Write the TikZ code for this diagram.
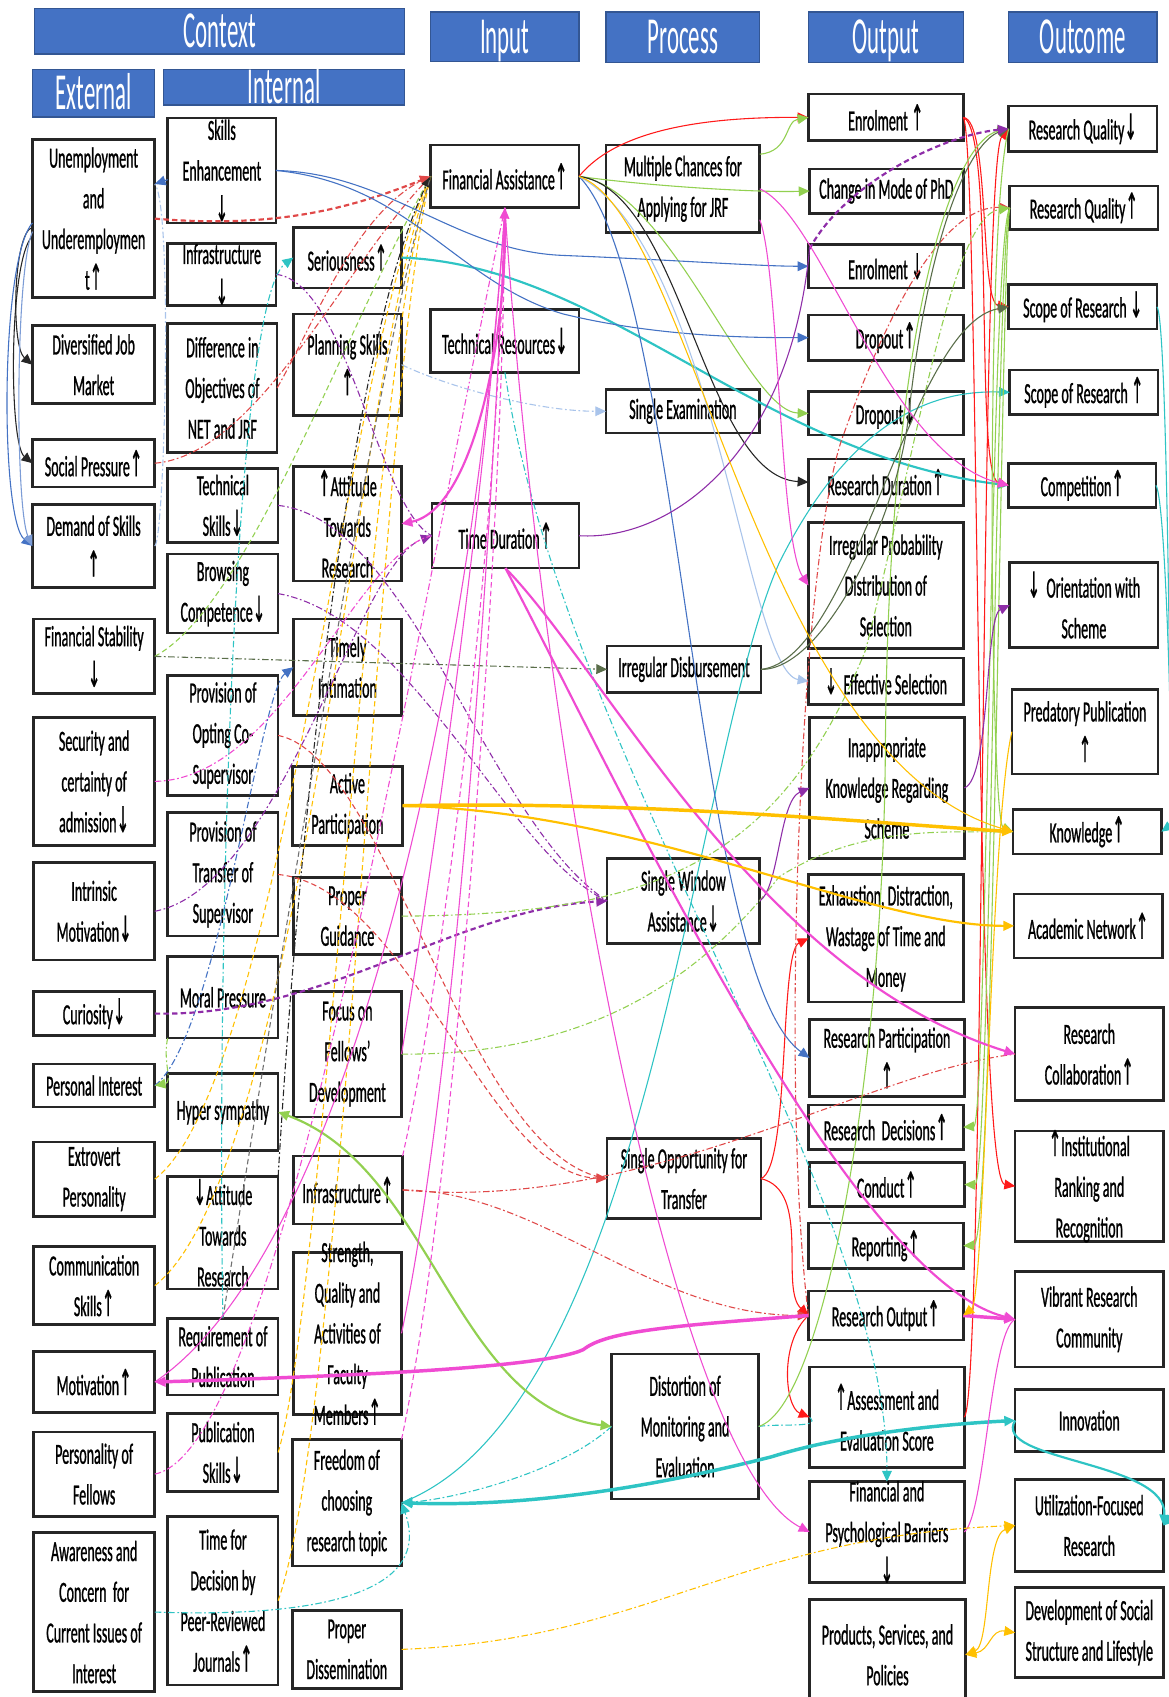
\documentclass[tikz,border=0pt]{standalone}
\usepackage{fontspec}
\setmainfont{Carlito}[FakeStretch=0.48,FakeBold=0.8]
\newfontfamily\hdrfont{Carlito}[FakeStretch=0.44]
\newfontfamily\arrfont{DejaVu Sans}[FakeStretch=0.42,FakeBold=0.4]
\usetikzlibrary{arrows.meta}
\definecolor{hblue}{HTML}{4472C4}
\definecolor{cred}{HTML}{FF1A1A}
\definecolor{cdred}{HTML}{E04848}
\definecolor{cgreen}{HTML}{92D050}
\definecolor{cblue}{HTML}{4472C4}
\definecolor{clblue}{HTML}{A9C4EB}
\definecolor{cblack}{HTML}{262626}
\definecolor{cgray}{HTML}{707070}
\definecolor{cmag}{HTML}{F04BD2}
\definecolor{cpurp}{HTML}{8E2DA8}
\definecolor{ccyan}{HTML}{2EC4C4}
\definecolor{cyel}{HTML}{FFC000}
\definecolor{cdgreen}{HTML}{5A6E4A}
\newcommand\myup{{\arrfont\fontsize{16.5}{18}\selectfont ↑}}
\newcommand\mydn{{\arrfont\fontsize{16.5}{18}\selectfont ↓}}
\newcommand\bx[6]{%
  \node[box,minimum width={(#4-#2)*0.5pt},minimum height={(#5-#3)*0.5pt}] (#1) at ({(#2+#4)/2},{(#3+#5)/2}) {};%
  \node[txt] (#1-t) at (#1.center) {#6};}
\newcommand\hd[6]{%
  \node[hdr,minimum width={(#4-#2)*0.5pt},minimum height={(#5-#3)*0.5pt}] (#1) at ({(#2+#4)/2},{(#3+#5)/2}) {#6};}
\begin{document}
\begin{tikzpicture}[x=0.5pt,y=-0.5pt,
  box/.style={draw=black!85,line width=1.2pt,fill=white,inner sep=0pt,outer sep=0pt},
  txt/.style={font=\fontsize{13.5}{18.8}\selectfont,align=center,inner sep=0pt},
  hdr/.style={fill=hblue,draw=hblue!75!black,line width=0.6pt,text=white,inner sep=0pt,outer sep=0pt,
    font=\hdrfont\fontsize{24}{26}\selectfont,text height=15pt,text depth=0pt},
  ar/.style={-{Triangle[length=5pt,width=4.5pt]}},
  arb/.style={{Triangle[length=5pt,width=4.5pt]}-{Triangle[length=5pt,width=4.5pt]}},
  l1/.style={line width=0.5pt},
  l2/.style={line width=1pt},
  l3/.style={line width=1.6pt},
  dd/.style={dash pattern=on 3pt off 1.2pt on 0.8pt off 1.2pt},
  ds/.style={dash pattern=on 2.5pt off 1.5pt}]
\useasboundingbox (0,0) rectangle (1080,1568);
\fill[white] (0,0) rectangle (1080,1568);
% headers
\hd{hcontext}{32}{8}{374}{50}{Context}
\hd{hext}{30}{64}{143}{108}{External}
\hd{hint}{151}{64}{374}{97}{Internal}
\hd{hinput}{398}{11}{535}{57}{Input}
\hd{hproc}{560}{11}{702}{58}{Process}
\hd{hout}{747}{11}{890}{58}{Output}
\hd{houtc}{932}{11}{1069}{58}{Outcome}
% external
\bx{unemp}{30}{129}{143}{275}{Unemployment\\and\\Underemploymen\\t\myup}
\bx{divjob}{30}{301}{143}{373}{Diversified Job\\Market}
\bx{socpr}{30}{406}{143}{450}{Social Pressure\myup}
\bx{demsk}{30}{466}{143}{543}{Demand of Skills\\\myup}
\bx{finstab}{31}{572}{143}{641}{Financial Stability\\\mydn}
\bx{secur}{31}{663}{143}{781}{Security and\\certainty of\\admission\mydn}
\bx{intrin}{31}{797}{143}{887}{Intrinsic\\Motivation\mydn}
\bx{curio}{31}{916}{143}{957}{Curiosity\mydn}
\bx{persint}{31}{983}{143}{1023}{Personal Interest}
\bx{extro}{31}{1055}{143}{1124}{Extrovert\\Personality}
\bx{commsk}{31}{1152}{143}{1224}{Communication\\Skills\myup}
\bx{motiv}{31}{1249}{143}{1305}{Motivation\myup}
\bx{persfel}{31}{1323}{143}{1401}{Personality of\\Fellows}
\bx{aware}{31}{1416}{143}{1563}{Awareness and\\Concern\ \ for\\Current Issues of\\Interest}
% internal 1
\bx{skillenh}{155}{109}{255}{206}{Skills\\Enhancement\\\mydn}
\bx{infradn}{155}{225}{255}{282}{Infrastructure\\\mydn}
\bx{diffobj}{155}{299}{256}{418}{Difference in\\Objectives of\\NET and JRF}
\bx{techsk}{155}{433}{257}{501}{Technical\\Skills\mydn}
\bx{browse}{155}{512}{257}{585}{Browsing\\Competence\mydn}
\bx{optco}{155}{624}{257}{735}{Provision of\\Opting Co-\\Supervisor}
\bx{transfer}{155}{751}{257}{865}{Provision of\\Transfer of\\Supervisor}
\bx{moral}{155}{884}{257}{959}{Moral Pressure}
\bx{hyper}{155}{992}{257}{1063}{Hyper sympathy}
\bx{attdn}{155}{1087}{257}{1191}{\mydn Attitude\\Towards\\Research}
\bx{reqpub}{155}{1218}{257}{1289}{Requirement of\\Publication}
\bx{pubsk}{155}{1306}{257}{1378}{Publication\\Skills\mydn}
\bx{timedec}{155}{1401}{257}{1557}{Time for\\Decision by\\Peer-Reviewed\\Journals\myup}
% internal 2
\bx{serious}{271}{210}{371}{266}{Seriousness\myup}
\bx{plan}{271}{290}{371}{384}{Planning Skills\\\myup}
\bx{attup}{271}{431}{371}{537}{\myup Attitude\\Towards\\Research}
\bx{timely}{271}{572}{371}{661}{Timely\\Intimation}
\bx{active}{270}{708}{372}{781}{Active\\Participation}
\bx{guidance}{271}{811}{371}{882}{Proper\\Guidance}
\bx{focus}{271}{916}{371}{1032}{Focus on\\Fellows’\\Development}
\bx{infraup}{271}{1068}{372}{1131}{Infrastructure\myup}
\bx{faculty}{271}{1157}{371}{1307}{Strength,\\Quality and\\Activities of\\Faculty\\Members\myup}
\bx{freedom}{270}{1330}{371}{1447}{Freedom of\\choosing\\research topic}
\bx{dissem}{270}{1488}{371}{1560}{Proper\\Dissemination}
% input
\bx{fa}{398}{134}{535}{192}{Financial Assistance\myup}
\bx{techres}{398}{286}{535}{344}{Technical Resources\mydn}
\bx{timedur}{399}{465}{535}{525}{Time Duration\myup}
% process
\bx{multi}{560}{134}{702}{215}{Multiple Chances for\\Applying for JRF}
\bx{singleexam}{560}{360}{702}{400}{Single Examination}
\bx{irregdisb}{561}{597}{703}{640}{Irregular Disbursement}
\bx{singlewin}{561}{793}{702}{872}{Single Window\\Assistance\mydn}
\bx{singleopp}{561}{1052}{703}{1126}{Single Opportunity for\\Transfer}
\bx{distort}{565}{1251}{701}{1385}{Distortion of\\Monitoring and\\Evaluation}
% output
\bx{enrup}{747}{87}{890}{130}{Enrolment \myup}
\bx{mode}{748}{156}{890}{197}{Change in Mode of PhD}
\bx{enrdn}{747}{226}{890}{266}{Enrolment \mydn}
\bx{dropup}{747}{291}{890}{333}{Dropout\myup}
\bx{dropdn}{747}{362}{890}{402}{Dropout\mydn}
\bx{resdur}{747}{424}{890}{467}{Research Duration\myup}
\bx{irrprob}{747}{483}{890}{599}{Irregular Probability\\Distribution of\\Selection}
\bx{effsel}{747}{608}{890}{651}{\mydn\ \ Effective Selection}
\bx{inapp}{748}{663}{891}{793}{Inappropriate\\Knowledge Regarding\\Scheme}
\bx{exhaust}{747}{808}{890}{926}{Exhaustion, Distraction,\\Wastage of Time and\\Money}
\bx{respart}{748}{942}{891}{1013}{Research Participation\\\myup}
\bx{resdec}{747}{1021}{890}{1062}{Research\ \ Decisions\myup}
\bx{conduct}{748}{1074}{891}{1115}{Conduct\myup}
\bx{report}{747}{1130}{890}{1172}{Reporting\myup}
\bx{resout}{747}{1193}{890}{1238}{Research Output\myup}
\bx{assess}{748}{1263}{891}{1356}{\myup Assessment and\\Evaluation Score}
\bx{barriers}{748}{1369}{891}{1462}{Financial and\\Psychological Barriers\\\mydn}
\bx{products}{748}{1478}{892}{1580}{Products, Services, and\\Policies}
% outcome
\bx{rqdn}{932}{98}{1069}{140}{Research Quality\mydn}
\bx{rqup}{933}{172}{1070}{212}{Research Quality\myup}
\bx{scopedn}{932}{263}{1069}{304}{Scope of Research \mydn}
\bx{scopeup}{933}{342}{1070}{383}{Scope of Research \myup}
\bx{compet}{932}{428}{1068}{469}{Competition\myup}
\bx{orient}{933}{520}{1070}{598}{\mydn\ \ Orientation with\\Scheme}
\bx{predatory}{935}{637}{1070}{715}{Predatory Publication\\\myup}
\bx{knowl}{936}{748}{1073}{789}{Knowledge\myup}
\bx{acadnet}{937}{826}{1074}{885}{Academic Network\myup}
\bx{collab}{938}{931}{1075}{1017}{Research\\Collaboration\myup}
\bx{ranking}{938}{1045}{1075}{1147}{\myup Institutional\\Ranking and\\Recognition}
\bx{vibrant}{938}{1175}{1075}{1263}{Vibrant Research\\Community}
\bx{innov}{938}{1284}{1075}{1341}{Innovation}
\bx{utiliz}{938}{1367}{1075}{1452}{Utilization-Focused\\Research}
\bx{devsoc}{938}{1467}{1075}{1550}{Development of Social\\Structure and Lifestyle}
% ---------- connectors ----------
% left side
\draw[l1,cblack,ar] ([yshift=-4pt]unemp.west) .. controls (12,215) and (10,320) .. (divjob.west);
\draw[l1,cblack,ar] ([yshift=-8pt]unemp.west) .. controls (8,240) and (8,410) .. (socpr.west);
\draw[l1,cblue,ar] ([yshift=-2pt]unemp.west) .. controls (0,240) and (0,480) .. (demsk.west);
\draw[l1,cblue!70,ar] ([yshift=-6pt]unemp.west) .. controls (14,250) and (14,470) .. (demsk.west);
\draw[l1,clblue,dd] (demsk.east) .. controls (152,500) and (160,190) .. ([yshift=16pt]unemp.east);
\draw[l1,cblue,ar] ([yshift=18pt,xshift=6pt]unemp.east) -- ([yshift=16pt]unemp.east);
% into financial assistance
\draw[l2,cdred,ds,ar] (unemp.east) .. controls (260,212) and (330,190) .. (fa.west);
\draw[l1,cdred,dd] (socpr.east) .. controls (240,420) and (320,240) .. (fa.west);
\draw[l1,cdred,dd] (diffobj.east) .. controls (290,300) and (330,190) .. (fa.west);
\draw[l1,cyel,ds] (extro.east) .. controls (260,1000) and (320,320) .. (fa.west);
\draw[l1,cyel,ds] (commsk.east) .. controls (280,1080) and (330,330) .. (fa.west);
\draw[l1,cyel,ds] (pubsk.east) .. controls (300,1200) and (340,340) .. (fa.west);
\draw[l1,cyel,ds] (timedec.east) .. controls (320,1300) and (350,350) .. (fa.west);
\draw[l1,cgreen,ds] (finstab.east) .. controls (230,560) and (320,300) .. (fa.west);
\draw[l1,cblack,dd,ar] (attdn.north east) .. controls (280,700) and (330,300) .. (fa.west);
\draw[l1,cgray,ds] (reqpub.north) .. controls (240,1000) and (350,320) .. (fa.west);
\draw[l1,cdgreen,dd,ar] (finstab.east) -- (irregdisb.west);
\draw[l1,cblue,dd,ar] (persint.east) .. controls (200,960) and (240,640) .. (timely.west);
\draw[l1,cgreen,dd,ar] (moral.south west) .. controls (150,980) and (160,1000) .. (persint.east);
% purple / magenta dashed
\draw[l2,cpurp,ds,ar] (curio.east) .. controls (300,940) and (420,840) .. (singlewin.west);
\draw[l1,cpurp,dd] (techsk.east) .. controls (380,480) and (450,760) .. (singlewin.west);
\draw[l1,cpurp,dd] (browse.east) .. controls (380,570) and (470,790) .. (singlewin.west);
\draw[l1,cpurp,dd,ar] (intrin.east) .. controls (260,820) and (330,520) .. (timedur.west);
\draw[l1,cmag,dd] (secur.east) .. controls (260,720) and (330,510) .. (timedur.west);
\draw[l1,cpurp,dd] (infradn.east) .. controls (320,260) and (350,470) .. (timedur.west);
\draw[l1,cmag,dd] (persfel.east) .. controls (260,1340) and (380,600) .. (fa.south);
\draw[l1,ccyan,dd,ar] (reqpub.north) .. controls (200,900) and (215,280) .. (serious.west);
\draw[l1,clblue,dd,ar] (plan.east) .. controls (420,360) and (500,380) .. (singleexam.west);
% cyan
\draw[l2,ccyan,ar] (serious.east) .. controls (560,245) and (700,420) .. (compet.west);
\draw[l1,ccyan,ar] (freedom.east) .. controls (600,1300) and (640,700) .. (720,520) .. controls (780,400) and (850,360) .. (scopeup.west);
\draw[l3,ccyan,arb] (freedom.east) .. controls (470,1392) and (580,1380) .. (713,1346) .. controls (780,1325) and (870,1316) .. (innov.west);
\draw[l1,ccyan,dd,ar] (distort.west) .. controls (520,1360) and (420,1385) .. (freedom.east);
\draw[l1,ccyan,dd,ar] (aware.east) .. controls (300,1495) and (400,1470) .. (freedom.east);
\draw[l1,ccyan,dd] (distort.east) .. controls (720,1315) and (760,1320) .. (assess.west);
\draw[l1,ccyan,ar] (scopedn.east) .. controls (1085,300) and (1085,1400) .. (utiliz.east);
\draw[l1,ccyan,ar] (compet.east) .. controls (1078,460) and (1085,760) .. (knowl.east);
\draw[l2,ccyan,ar] (innov.west) .. controls (915,1350) and (1080,1350) .. (utiliz.east);
\draw[l1,ccyan,dd,ar] (techres.south) .. controls (520,700) and (820,1100) .. (barriers.north);
% red
\draw[l1,cred,ar] (fa.east) .. controls (570,120) and (650,108) .. (enrup.west);
\draw[l1,cred,ar] (enrup.east) .. controls (915,110) and (905,280) .. (scopedn.west);
\draw[l1,cred,ar] (enrup.east) .. controls (920,120) and (900,440) .. (compet.west);
\draw[l1,cred,ar] (enrup.east) .. controls (905,130) and (900,1090) .. (ranking.west);
\draw[l1,cred,ar] (assess.east) .. controls (910,1290) and (905,150) .. (rqdn.west);
\draw[l1,cred,ar] (singleopp.east) .. controls (730,1080) and (720,880) .. (exhaust.west);
\draw[l1,cred,ar] (singleopp.east) .. controls (750,1100) and (720,1190) .. (resout.west);
\draw[l1,cred,ar] (resout.west) .. controls (720,1240) and (725,1300) .. (assess.west);
\draw[l1,cdred,ds,ar] (transfer.east) .. controls (380,820) and (450,1085) .. (singleopp.west);
\draw[l1,cdred,ds] (optco.east) .. controls (360,700) and (430,1070) .. (singleopp.west);
\draw[l1,cdred,dd,ar] (infraup.east) .. controls (500,1100) and (600,1215) .. (resout.west);
\draw[l1,cdred,dd] (infraup.east) .. controls (600,1120) and (800,990) .. (collab.west);
\draw[l1,cdred,dd,ar] (resout.west) .. controls (720,1000) and (740,500) .. (780,400) .. controls (830,260) and (880,190) .. (rqup.west);
% green
\draw[l1,cgreen,ar] ([yshift=16pt]multi.east) .. controls (730,140) and (725,112) .. (enrup.west);
\draw[l1,cgreen,ar] (fa.east) .. controls (600,172) and (700,178) .. (mode.west);
\draw[l1,cgreen,ar] (fa.east) .. controls (620,175) and (690,380) .. (dropdn.west);
\draw[l1,cgreen,ar] (distort.east) .. controls (760,1300) and (815,1000) .. (818,700) .. controls (820,300) and (880,130) .. (rqdn.west);
\draw[l1,cgreen,ar] (rqup.west) .. controls (915,220) and (912,1040) .. (resdec.east);
\draw[l1,cgreen,ar] (rqup.west) .. controls (920,230) and (915,1095) .. (conduct.east);
\draw[l1,cgreen,ar] (rqup.west) .. controls (925,240) and (918,1150) .. (report.east);
\draw[l1,cgreen,ar] (rqdn.west) .. controls (910,200) and (915,760) .. (knowl.west);
\draw[l2,cgreen,arb] (hyper.east) .. controls (400,1080) and (420,1300) .. (distort.west);
\draw[l1,cgreen,dd] (focus.east) .. controls (550,975) and (650,900) .. (720,810) .. controls (800,760) and (880,770) .. (knowl.west);
\draw[l1,cgreen,dd,ar] (guidance.east) .. controls (600,845) and (720,800) .. (800,600) .. controls (850,400) and (880,200) .. (rqup.west);
% blue
\draw[l1,cblue,ar] (skillenh.east) .. controls (360,160) and (420,232) .. (520,236) .. controls (620,240) and (700,246) .. (enrdn.west);
\draw[l1,cblue,ar] (skillenh.east) .. controls (380,170) and (420,260) .. (520,290) .. controls (610,312) and (700,312) .. (dropup.west);
\draw[l1,cblue,ar] (fa.east) .. controls (630,260) and (640,900) .. (respart.west);
\draw[l1,clblue,ar] (fa.east) .. controls (660,230) and (690,620) .. (effsel.west);
% black and dark
\draw[l1,cblack,ar] (fa.east) .. controls (630,175) and (650,440) .. (resdur.west);
\draw[l1,cdgreen,ar] (irregdisb.east) .. controls (760,620) and (830,480) .. (840,380) .. controls (860,200) and (900,130) .. (rqdn.west);
\draw[l1,cdgreen,ar] (irregdisb.east) .. controls (790,610) and (840,300) .. (scopedn.west);
% purple
\coordinate (pj) at (748,230);
\draw[l1,cpurp] (timedur.east) .. controls (620,500) and (730,420) .. (pj);
\draw[l2,cpurp,ds,ar] (pj) .. controls (780,170) and (870,125) .. (rqdn.west);
\draw[l1,cpurp,ar] (inapp.east) .. controls (915,720) and (910,570) .. (orient.west);
\draw[l1,cpurp,ar] (singlewin.east) .. controls (720,820) and (720,740) .. (inapp.west);
% magenta
\draw[l2,cmag,ar] (fa.south) .. controls (470,300) and (440,470) .. (attup.east);
\draw[l1,cmag] (fa.south) .. controls (440,600) and (330,1150) .. (motiv.east);
\draw[l3,cmag,ar] (resout.west) .. controls (620,1225) and (560,1230) .. (539,1247) .. controls (500,1265) and (300,1272) .. (motiv.east);
\draw[l1,cmag,ar] (faculty.east) .. controls (420,1000) and (455,500) .. (fa.south);
\draw[l1,cmag,ds] (infraup.north east) .. controls (410,900) and (460,500) .. (fa.south);
\draw[l1,cmag] (focus.east) .. controls (400,800) and (450,450) .. (fa.south);
\draw[l1,cmag,ds] (freedom.north east) .. controls (420,1100) and (465,500) .. (fa.south);
\draw[l1,cmag,ar] (fa.south) .. controls (500,700) and (620,1350) .. (barriers.west);
\draw[l2,cmag,ar] (timedur.south) .. controls (560,620) and (700,900) .. (collab.west);
\draw[l2,cmag,ar] (timedur.south) .. controls (560,700) and (780,1180) .. (vibrant.west);
\draw[l1,cmag,ar] (multi.east) .. controls (760,200) and (820,420) .. (compet.west);
\draw[l1,cmag,ar] ([yshift=6pt]multi.south east) .. controls (720,250) and (720,500) .. (irrprob.west);
\draw[l1,cmag] (barriers.east) .. controls (910,1400) and (915,1230) .. (vibrant.west);
\draw[l3,cmag,ar] (resout.east) -- (vibrant.west);
% yellow
\draw[l1,cyel,ar] (fa.east) .. controls (640,200) and (700,700) .. (knowl.west);
\draw[l3,cyel,ar] (active.east) .. controls (600,740) and (800,760) .. (knowl.west);
\draw[l2,cyel,ar] (active.east) .. controls (600,750) and (800,855) .. (acadnet.west);
\draw[l1,cyel,ar] (predatory.west) .. controls (915,760) and (910,1200) .. (resout.east);
\draw[l1,cyel,dd,ar] (dissem.east) .. controls (600,1515) and (680,1420) .. (utiliz.west);
\draw[l1,cyel,arb] (products.east) .. controls (915,1520) and (910,1420) .. (utiliz.west);
\draw[l1,cyel,arb] (products.east) .. controls (915,1525) and (915,1505) .. (devsoc.west);
\end{tikzpicture}
\end{document}
